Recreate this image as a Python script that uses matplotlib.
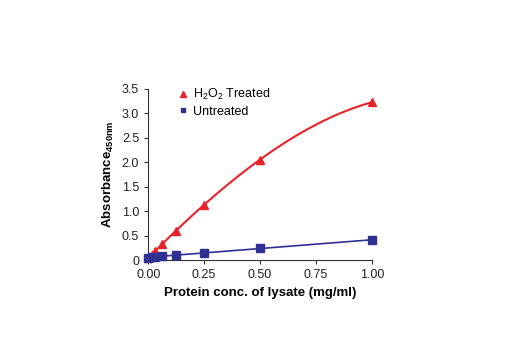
import matplotlib.pyplot as plt
import numpy as np

plt.rcParams['font.family'] = ['Liberation Sans', 'DejaVu Sans']
plt.rcParams['mathtext.default'] = 'regular'

conc = [0.0, 0.0156, 0.03125, 0.0625, 0.125, 0.25, 0.5, 1.0]
treated = [0.05, 0.10, 0.19, 0.33, 0.60, 1.13, 2.05, 3.22]
untreated = [0.05, 0.06, 0.07, 0.08, 0.10, 0.15, 0.24, 0.41]

red = '#e8232b'
blue = '#2e3192'

fig = plt.figure(figsize=(5.2, 3.5), dpi=100)
ax = fig.add_axes([0.285, 0.257, 0.43, 0.49])

# smooth curves through the points
xs = np.linspace(0, 1, 200)
ax.plot(xs, np.polyval(np.polyfit(conc, treated, 3), xs), color=red, lw=1.5, zorder=2)
ax.plot(xs, np.polyval(np.polyfit(conc, untreated, 1), xs), color=blue, lw=1.2, zorder=2)
ax.plot(conc, treated, '^', color=red, ms=6, label='H$_2$O$_2$ Treated', zorder=3, clip_on=False)
ax.plot(conc, untreated, 's', color=blue, ms=5.5, label='Untreated', zorder=3, clip_on=False)

ax.set_xlim(0, 1.0)
ax.set_ylim(0, 3.5)
ax.set_xticks([0, 0.25, 0.5, 0.75, 1.0])
ax.set_xticklabels(['0.00', '0.25', '0.50', '0.75', '1.00'])
ax.set_yticks([0, 0.5, 1.0, 1.5, 2.0, 2.5, 3.0, 3.5])
ax.set_yticklabels(['0', '0.5', '1.0', '1.5', '2.0', '2.5', '3.0', '3.5'])
ax.tick_params(labelsize=9, length=3, width=0.8, color='#333333', labelcolor='#222222')
for s in ['top', 'right']:
    ax.spines[s].set_visible(False)
for s in ['left', 'bottom']:
    ax.spines[s].set_linewidth(0.8)
    ax.spines[s].set_color('#333333')

ax.set_xlabel('Protein conc. of lysate (mg/ml)', fontsize=9.5, fontweight='bold', labelpad=4)
ax.set_ylabel('Absorbance$_{450nm}$', fontsize=9.5, fontweight='bold', labelpad=4)

ax.legend(loc='upper left', bbox_to_anchor=(0.09, 1.075), frameon=False, fontsize=9,
          handlelength=0.6, handletextpad=0.5, labelspacing=0.3, markerscale=0.65)

fig.savefig('out.png', dpi=100)
